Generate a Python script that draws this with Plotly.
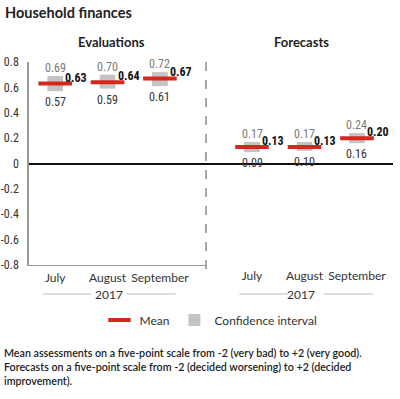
import plotly.graph_objects as go

months = ["July", "August", "September"]
eval_mean = [0.63, 0.64, 0.67]
eval_low = [0.57, 0.59, 0.61]
eval_high = [0.69, 0.70, 0.72]
fc_mean = [0.13, 0.13, 0.20]
fc_low = [0.09, 0.10, 0.16]
fc_high = [0.17, 0.17, 0.24]
panel_titles = ["Evaluations", "Forecasts"]
year_label = "2017"
y_ticks = [-0.8, -0.6, -0.4, -0.2, 0, 0.2, 0.4, 0.6, 0.8]
y_ticktext = ["-0.8", "-0.6", "-0.4", "-0.2", "0", "0.2", "0.4", "0.6", "0.8"]

FONT = "Lato, 'Source Sans Pro', 'Noto Sans', sans-serif"
NUMFONT = "'Liberation Sans Narrow', 'Roboto Condensed', 'Arial Narrow', Roboto, sans-serif"
RED = "#d7261e"
GRAY = "#c3c3c3"

W, H = 400, 399

fig = go.Figure()

panels = [
    ("x", "y", eval_mean, eval_low, eval_high),
    ("x2", "y2", fc_mean, fc_low, fc_high),
]

for i, (xa, ya, mean, low, high) in enumerate(panels):
    fig.add_trace(go.Bar(
        x=months, y=[h - l for h, l in zip(high, low)], base=low,
        width=0.3, marker=dict(color=GRAY, line=dict(width=0)),
        name="Confidence interval", showlegend=(i == 0), legendrank=2,
        xaxis=xa, yaxis=ya, hoverinfo="skip",
    ))
for i, (xa, ya, mean, low, high) in enumerate(panels):
    fig.add_trace(go.Scatter(
        x=months, y=mean, mode="markers",
        marker=dict(symbol="line-ew-open", size=24,
                    line=dict(width=4, color=RED), color=RED),
        name="Mean", showlegend=(i == 0), legendrank=1,
        xaxis=xa, yaxis=ya, hoverinfo="skip",
    ))

annotations = []
for i, (xa, ya, mean, low, high) in enumerate(panels):
    for m, mv, lv, hv in zip(months, mean, low, high):
        annotations.append(dict(
            x=m, y=hv, xref=xa, yref=ya, text=f"{hv:.2f}", showarrow=False,
            yanchor="bottom", yshift=-1,
            font=dict(family=NUMFONT, size=12, color="#7a7a7a")))
        annotations.append(dict(
            x=m, y=lv, xref=xa, yref=ya, text=f"{lv:.2f}", showarrow=False,
            yanchor="top", yshift=-2,
            font=dict(family=NUMFONT, size=12, color="#333333")))
        annotations.append(dict(
            x=m, y=mv, xref=xa, yref=ya, text=f"<b>{mv:.2f}</b>", showarrow=False,
            xanchor="left", xshift=8, yanchor="bottom", yshift=-3,
            font=dict(family=NUMFONT, size=12, color="#111111")))
    # panel title
    annotations.append(dict(
        x=months[1], y=1.098, xref=xa, yref="paper", text=f"<b>{panel_titles[i]}</b>",
        showarrow=False, yanchor="middle", xshift=4 if i == 0 else -3,
        font=dict(family=FONT, size=13, color="#222222")))
    # year label
    annotations.append(dict(
        x=months[1], y=-0.143, xref=xa, yref="paper", text=year_label,
        showarrow=False, yanchor="middle", xshift=1 if i == 0 else -3,
        font=dict(family=FONT, size=12, color="#333333")))

annotations.append(dict(
    x=-27 / 364, y=-0.39, xref="paper", yref="paper", xanchor="left", yanchor="top",
    align="left", showarrow=False,
    text=("Mean assessments on a five-point scale from -2 (very bad) to +2 (very good).<br>"
          "Forecasts on a five-point scale from -2 (decided worsening) to +2 (decided<br>"
          "improvement)."),
    font=dict(family=FONT, size=10.7, color="#222222", weight=600)))

shapes = [
    dict(type="line", xref="x2 domain", yref="y domain", x0=0, x1=0, y0=-0.02, y1=1.01,
         line=dict(color="#8a8a8a", width=1.5, dash="dash")),
]
for xa in ["x", "x2"]:
    for a, b in [(-0.24, 0.69), (1.37, 2.30)]:
        shapes.append(dict(type="line", xref=xa, yref="paper", x0=a, x1=b,
                           y0=-0.143, y1=-0.143, line=dict(color="#bbbbbb", width=1)))

fig.update_layout(
    width=W, height=H,
    margin=dict(l=29, r=7, t=62, b=134, autoexpand=False),
    paper_bgcolor="white", plot_bgcolor="white",
    font=dict(family=FONT, size=12, color="#333333"),
    title=dict(text="<b>Household finances</b>", x=5 / W, xref="container", xanchor="left",
               y=1 - 13 / H, yref="container", yanchor="middle", pad=dict(l=0, t=0),
               font=dict(family=FONT, size=14.5, color="#222222")),
    barmode="overlay",
    showlegend=True,
    legend=dict(orientation="h", x=0.5, xanchor="center", y=-0.2, yanchor="top",
                font=dict(family=FONT, size=12, color="#333333"),
                traceorder="normal"),
    xaxis=dict(domain=[0, 0.4863], type="category", categoryarray=months,
               range=[-0.5, 2.88], showline=True, linecolor="#999999", linewidth=1,
               showgrid=False, zeroline=False, ticks="", ticklabelstandoff=2,
               tickfont=dict(family=FONT, size=12, color="#333333")),
    xaxis2=dict(domain=[0.4863, 1], type="category", categoryarray=months,
                range=[-0.876, 2.686], showline=False, anchor="y2",
                showgrid=False, zeroline=False, ticks="", ticklabelstandoff=2,
                tickfont=dict(family=FONT, size=12, color="#333333")),
    yaxis=dict(range=[-0.8, 0.8], tickvals=y_ticks, ticktext=y_ticktext, showgrid=False,
               zeroline=True, zerolinecolor="#111111", zerolinewidth=1.5,
               showline=True, linecolor="#999999", linewidth=1.5, ticks="",
               ticklabelstandoff=6,
               tickfont=dict(family=NUMFONT, size=12, color="#333333")),
    yaxis2=dict(range=[-0.8, 0.8], matches="y", anchor="x2", showgrid=False,
                zeroline=True, zerolinecolor="#111111", zerolinewidth=1.5,
                showline=False, showticklabels=False, ticks=""),
    annotations=annotations,
    shapes=shapes,
)

fig.write_html("out.html", config={"displayModeBar": False},
               post_script="document.body.style.margin='0px';document.body.style.overflow='hidden';")
